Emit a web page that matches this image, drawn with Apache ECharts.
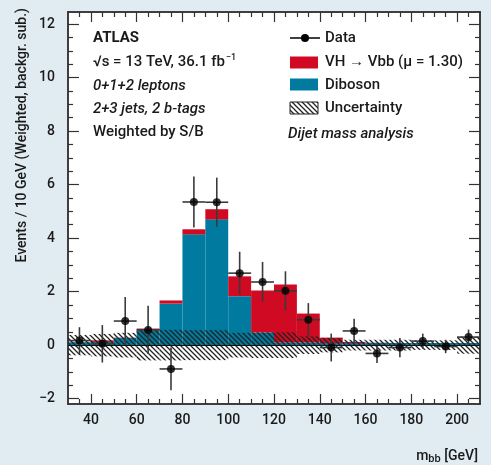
<!DOCTYPE html>
<html>
<head>
<meta charset="utf-8">
<script src="https://cdn.jsdelivr.net/npm/echarts@6/dist/echarts.min.js"></script>
<style>
html,body{margin:0;padding:0;background:#e1ecf2;}
#chart{width:491px;height:465px;}
</style>
</head>
<body>
<div id="chart"></div>
<script>
// ---- data (bin low edges, 10 GeV bins) ----
const binLow   = [30,40,50,60,70,80,90,100,110,120,130,140,150,160,170,180,190,200];
const binWidth = 10;
const diboson  = [0.11,0.12,0.27,0.56,1.55,4.14,4.70,1.83,0.47,0.10,0.10,0.08,0.08,0.08,0.08,0.08,0.08,0.08];
const vhSignal = [0.00,0.06,0.01,0.06,0.12,0.19,0.38,0.74,1.57,2.17,1.08,0.20,0.04,0.01,0.00,0.00,0.00,0.00];
const dataVal  = [0.17,0.05,0.90,0.57,-0.89,5.35,5.34,2.69,2.36,2.03,0.95,-0.09,0.53,-0.31,-0.09,0.15,-0.05,0.30];
const dataErr  = [0.50,0.70,0.90,0.90,0.80,0.95,0.92,0.80,0.75,0.73,0.62,0.52,0.46,0.36,0.36,0.28,0.25,0.28];
const uncert   = [0.38,0.42,0.46,0.57,0.57,0.56,0.56,0.46,0.48,0.48,0.33,0.27,0.20,0.20,0.20,0.18,0.18,0.32];
const xMajorTicks = [40,60,80,100,120,140,160,180,200];
const yMajorTicks = [-2,0,2,4,6,8,10,12];

const RED = '#d00a22', BLUE = '#007a9e', FONT = 'Roboto', TXT = '#1a1a1a', AX = '#333';
const FS = 15, FW = 500;

const xMinorTicks = [], yMinorTicks = [];
for (let v = 35; v <= 205; v += 5) if (xMajorTicks.indexOf(v) < 0) xMinorTicks.push(v);
for (let v = -2; v <= 12; v += 0.5) if (yMajorTicks.indexOf(v) < 0) yMinorTicks.push(v);

function makeHatch() {
  const s = 5, c = document.createElement('canvas');
  c.width = s; c.height = s;
  const g = c.getContext('2d');
  g.strokeStyle = '#222'; g.lineWidth = 1.25;
  g.beginPath();
  g.moveTo(-1, -1); g.lineTo(s + 1, s + 1);
  g.moveTo(-1, s - 1); g.lineTo(1, s + 1);
  g.moveTo(s - 1, -1); g.lineTo(s + 1, 1);
  g.stroke();
  return c;
}
const hatch = { image: makeHatch(), repeat: 'repeat' };

function rectItem(fill) {
  return function (params, api) {
    const x0 = api.value(0), x1 = api.value(1), y0 = api.value(2), y1 = api.value(3);
    const p0 = api.coord([x0, y1]), p1 = api.coord([x1, y0]);
    return { type: 'rect', shape: { x: p0[0], y: p0[1], width: p1[0] - p0[0], height: p1[1] - p0[1] }, style: { fill: fill } };
  };
}

const fmtY = v => (v < 0 ? '\u2212' + (-v) : String(v));

function xAx(pos, ticks, len, labels) {
  return {
    type: 'value', position: pos, min: 30, max: 210,
    axisLine: { show: true, onZero: false, lineStyle: { color: AX, width: 1.5 } },
    axisTick: { show: true, inside: true, length: len, customValues: ticks, lineStyle: { color: AX, width: 1.2 } },
    axisLabel: labels ? { show: true, customValues: ticks, margin: 9, fontSize: 14, fontWeight: FW, fontFamily: FONT, color: TXT } : { show: false },
    splitLine: { show: false }
  };
}
function yAx(pos, ticks, len, labels) {
  return {
    type: 'value', position: pos, min: -2.2, max: 12.45,
    axisLine: { show: true, onZero: false, lineStyle: { color: AX, width: 1.5 } },
    axisTick: { show: true, inside: true, length: len, customValues: ticks, lineStyle: { color: AX, width: 1.2 } },
    axisLabel: labels ? { show: true, customValues: ticks, margin: 13, fontSize: 14, fontWeight: FW, fontFamily: FONT, color: TXT, formatter: fmtY } : { show: false },
    splitLine: { show: false }
  };
}

function txt(x, y, s, extra) {
  return Object.assign({ type: 'text', x: x, y: y,
    style: Object.assign({ text: s, fontFamily: FONT, fontSize: FS, fontWeight: FW, fill: TXT, verticalAlign: 'middle' }, extra || {}) });
}

const chart = echarts.init(document.getElementById('chart'), null, { renderer: 'canvas' });

const option = {
  animation: false,
  backgroundColor: '#e1ecf2',
  grid: { left: 68, right: 11, top: 12, bottom: 61, show: true, backgroundColor: '#ffffff', borderWidth: 0 },
  xAxis: [
    xAx('bottom', xMajorTicks, 10, true),
    xAx('bottom', xMinorTicks, 5, false),
    xAx('top', xMajorTicks, 10, false),
    xAx('top', xMinorTicks, 5, false)
  ],
  yAxis: [
    yAx('left', yMajorTicks, 11, true),
    yAx('left', yMinorTicks, 5, false),
    yAx('right', yMajorTicks, 11, false),
    yAx('right', yMinorTicks, 5, false)
  ],
  series: [
    { type: 'custom', name: 'Diboson', clip: true, z: 2, renderItem: rectItem(BLUE),
      data: binLow.map((lo, i) => [lo, lo + binWidth, 0, diboson[i]]) },
    { type: 'custom', name: 'VH', clip: true, z: 2, renderItem: rectItem(RED),
      data: binLow.map((lo, i) => [lo, lo + binWidth, diboson[i], diboson[i] + vhSignal[i]]) },
    { type: 'custom', name: 'Uncertainty', clip: true, z: 3, renderItem: rectItem(hatch),
      data: binLow.map((lo, i) => [lo, lo + binWidth, -uncert[i], uncert[i]]),
      markLine: { silent: true, symbol: 'none', label: { show: false },
        lineStyle: { color: '#111', width: 1.2, type: 'solid' }, data: [{ yAxis: 0 }] } },
    { type: 'custom', name: 'DataErr', clip: true, z: 4,
      data: binLow.map((lo, i) => [lo, lo + binWidth, dataVal[i], dataErr[i]]),
      renderItem: function (params, api) {
        const x0 = api.value(0), x1 = api.value(1), y = api.value(2), e = api.value(3), xc = (x0 + x1) / 2;
        const a = api.coord([x0, y]), b = api.coord([x1, y]);
        const c = api.coord([xc, y - e]), d = api.coord([xc, y + e]);
        const st = { stroke: '#3a3a3a', lineWidth: 1.6 };
        return { type: 'group', children: [
          { type: 'line', shape: { x1: a[0], y1: a[1], x2: b[0], y2: b[1] }, style: st },
          { type: 'line', shape: { x1: c[0], y1: c[1], x2: d[0], y2: d[1] }, style: st }
        ] };
      } },
    { type: 'scatter', name: 'Data', z: 5, symbol: 'circle', symbolSize: 8,
      itemStyle: { color: '#000' },
      data: binLow.map((lo, i) => [lo + binWidth / 2, dataVal[i]]) }
  ],
  graphic: [
    txt(93, 38, 'ATLAS', { fontWeight: 'bold' }),
    txt(93, 62, '\u221As = 13 TeV, 36.1 fb{sup|\u22121}', { rich: { sup: { fontFamily: FONT, fontSize: 9, fontWeight: FW, fill: TXT, padding: [0, 0, 9, 1] } } }),
    txt(93, 86, '0+1+2 leptons', { fontStyle: 'italic' }),
    txt(93, 109, '2+3 jets, 2 b-tags', { fontStyle: 'italic' }),
    txt(93, 132, 'Weighted by S/B'),

    { type: 'line', shape: { x1: 290, y1: 38, x2: 320, y2: 38 }, style: { stroke: '#000', lineWidth: 1.5 } },
    { type: 'circle', shape: { cx: 305, cy: 38, r: 4 }, style: { fill: '#000' } },
    txt(325, 38, 'Data'),
    { type: 'rect', shape: { x: 290, y: 56.5, width: 28, height: 12 }, style: { fill: RED } },
    txt(325, 62, 'VH \u2192 Vbb (\u03BC = 1.30)'),
    { type: 'rect', shape: { x: 290, y: 78.5, width: 28, height: 12 }, style: { fill: BLUE } },
    txt(325, 85, 'Diboson'),
    { type: 'rect', shape: { x: 290, y: 102, width: 28, height: 12 }, style: { fill: hatch, stroke: '#222', lineWidth: 1 } },
    txt(325, 108, 'Uncertainty'),
    txt(288, 134, 'Dijet mass analysis', { fontStyle: 'italic' }),

    Object.assign(txt(22, 8, 'Events / 10 GeV (Weighted, backgr. sub.)', { fontSize: 14, align: 'right' }), { rotation: Math.PI / 2 }),
    txt(478, 456, 'm{sub|bb} [GeV]', { fontSize: 14, align: 'right',
      rich: { sub: { fontFamily: FONT, fontSize: 11, fontWeight: FW, fill: TXT, padding: [7, 0, 0, 0] } } })
  ]
};
chart.setOption(option);
</script>
</body>
</html>
